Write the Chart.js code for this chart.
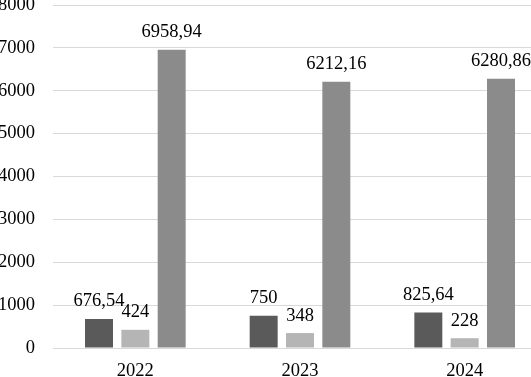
<!DOCTYPE html>
<html>
<head>
<meta charset="utf-8">
<script src="https://cdn.jsdelivr.net/npm/chart.js@4"></script>
<style>
html,body{margin:0;padding:0;background:#fff;overflow:hidden;width:531px;height:377px;}
#c{position:absolute;left:0;top:0;}
</style>
</head>
<body>
<canvas id="c" width="547" height="377" style="width:547px;height:377px"></canvas>
<script>
const categories = ['2022', '2023', '2024'];
const seriesDark = [676.54, 750, 825.64];
const seriesLight = [424, 348, 228];
const seriesMedium = [6958.94, 6212.16, 6280.86];
const yTicks = [0, 1000, 2000, 3000, 4000, 5000, 6000, 7000, 8000];

const FAMILY = "'Liberation Serif', 'Times New Roman', serif";
const SIZE = 18.5;

const labelPlugin = {
  id: 'valueLabels',
  afterDatasetsDraw(chart) {
    const ctx = chart.ctx;
    ctx.save();
    ctx.font = SIZE + 'px ' + FAMILY;
    ctx.fillStyle = '#000';
    ctx.textAlign = 'center';
    ctx.textBaseline = 'alphabetic';
    chart.data.datasets.forEach((ds, di) => {
      const meta = chart.getDatasetMeta(di);
      meta.data.forEach((bar, i) => {
        const txt = String(ds.data[i]).replace('.', ',');
        ctx.fillText(txt, bar.x, bar.y - 12.5);
      });
    });
    ctx.restore();
  }
};

new Chart(document.getElementById('c'), {
  type: 'bar',
  data: {
    labels: categories,
    datasets: [
      {data: seriesDark, backgroundColor: '#5a5a5a'},
      {data: seriesLight, backgroundColor: '#b5b5b5'},
      {data: seriesMedium, backgroundColor: '#8b8b8b'}
    ]
  },
  options: {
    responsive: false,
    animation: false,
    layout: {padding: 0},
    plugins: {legend: {display: false}, tooltip: {enabled: false}},
    datasets: {bar: {categoryPercentage: 0.662, barPercentage: 0.77}},
    scales: {
      x: {
        afterFit(scale) { scale.height = 29; },
        grid: {display: false, drawTicks: false},
        border: {display: false},
        ticks: {font: {family: FAMILY, size: SIZE}, color: '#000', padding: 12}
      },
      y: {
        min: 0, max: 8000,
        afterBuildTicks(scale) { scale.ticks = yTicks.map(v => ({value: v})); },
        afterFit(scale) { scale.width = 53; scale.paddingTop = 5; scale.paddingBottom = 0; },
        grid: {color: '#d9d9d9', lineWidth: 1, drawTicks: false},
        border: {display: false},
        ticks: {font: {family: FAMILY, size: SIZE}, color: '#000', padding: 18,
                callback: (v) => String(v)}
      }
    }
  },
  plugins: [labelPlugin]
});
</script>
</body>
</html>
